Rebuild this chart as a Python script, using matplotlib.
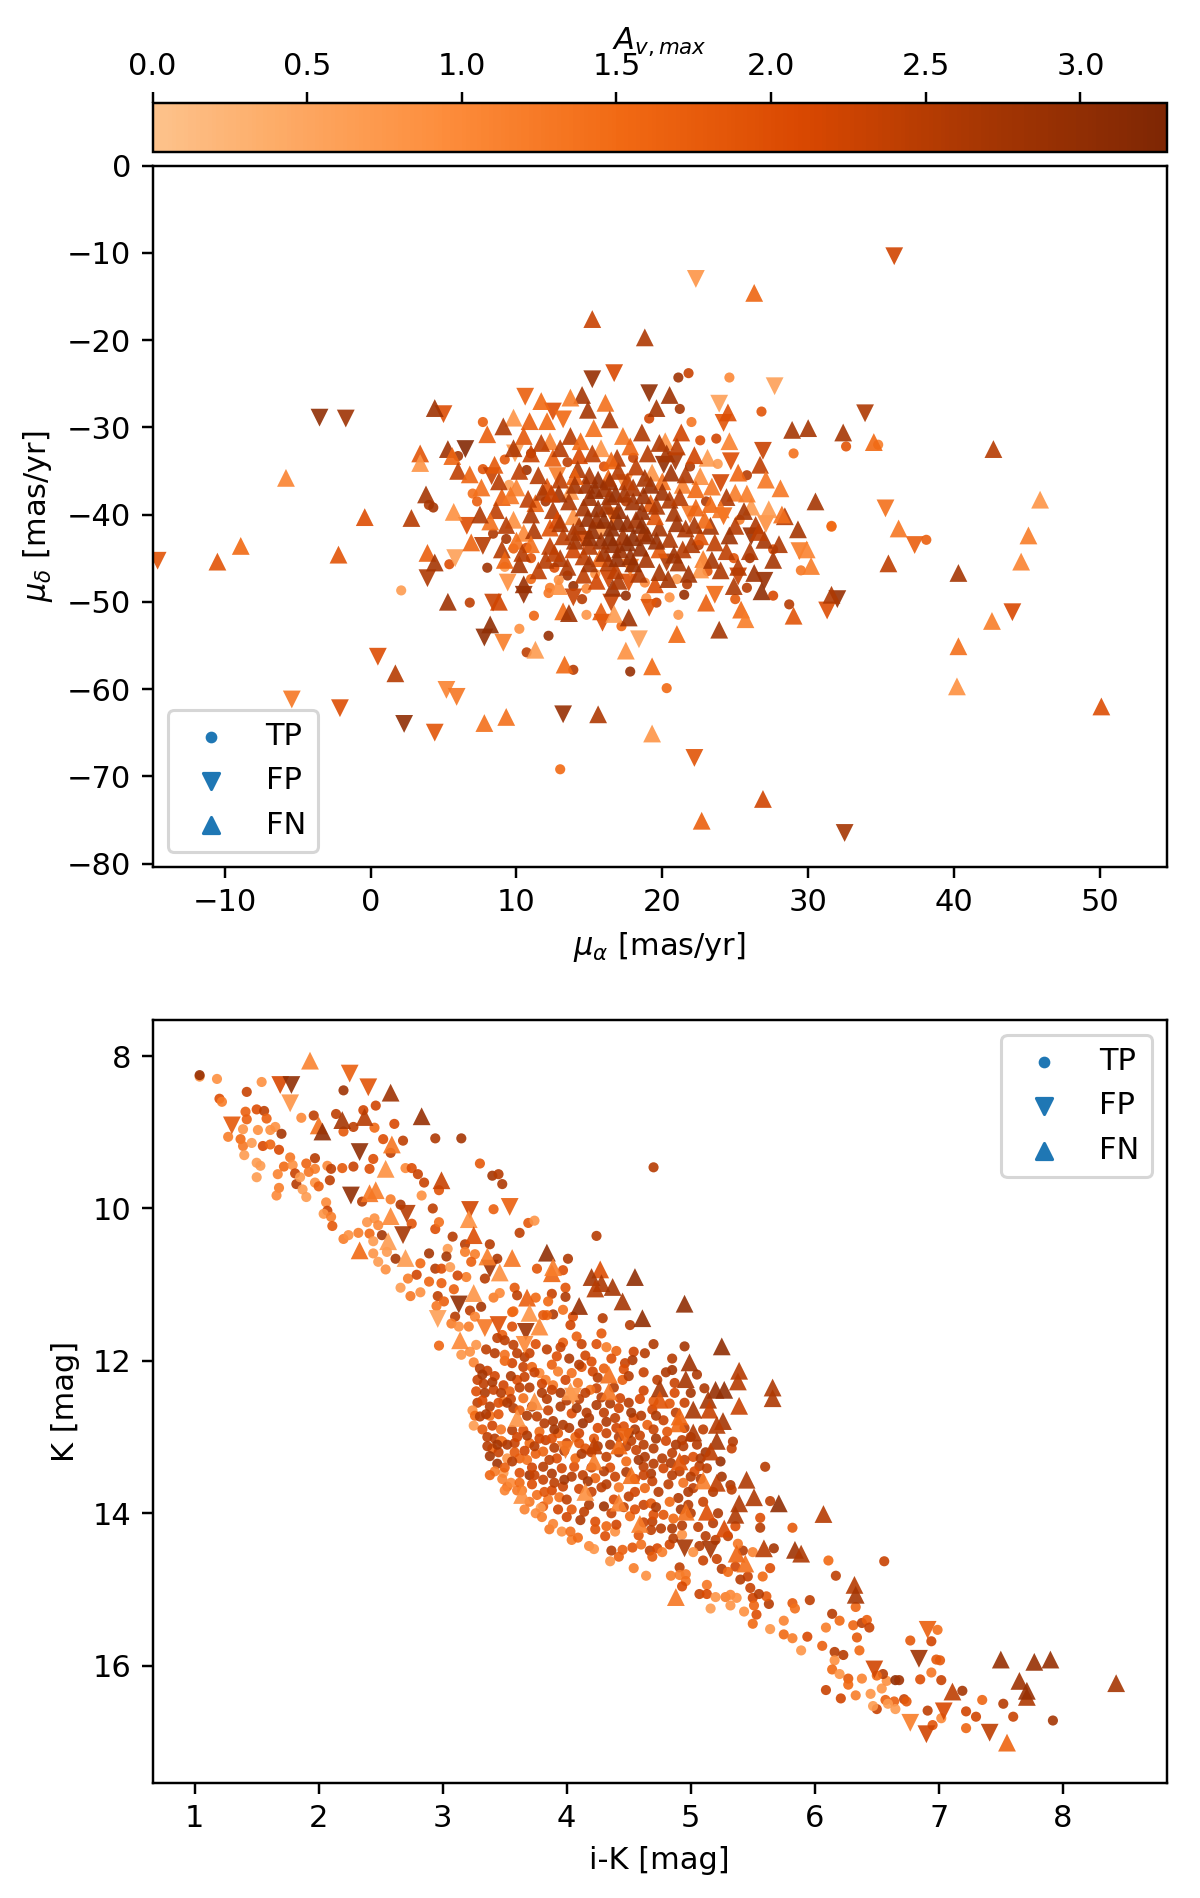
import numpy as np
import matplotlib
matplotlib.use('Agg')
import matplotlib.pyplot as plt
from matplotlib.cm import ScalarMappable
from matplotlib.colors import LinearSegmentedColormap, Normalize

# (pm_ra, pm_dec, Av)
pm_tp = [
    (2.1, -48.7, 0.7), (13.0, -69.2, 1.5), (38.1, -42.9, 1.7), (31.6, -41.4, 1.5), (29.0, -33.0, 1.4),
    (24.6, -24.3, 1.0), (21.8, -23.8, 2.3), (21.1, -24.3, 2.8), (21.2, -27.9, 2.7), (26.8, -28.2, 1.9),
    (19.1, -29.0, 2.2), (22.0, -29.4, 1.3), (7.7, -29.4, 1.7), (23.7, -31.3, 2.2), (22.6, -31.5, 2.0),
    (32.6, -32.2, 1.9), (6.0, -33.3, 2.7), (23.8, -34.2, 0.7), (25.8, -35.5, 2.5), (7.7, -34.8, 1.9),
    (9.2, -33.7, 1.8), (21.9, -34.5, 2.6), (10.7, -34.9, 2.8), (9.5, -36.6, 0.6), (7.0, -37.6, 1.4),
    (7.3, -38.5, 1.7), (4.0, -38.9, 2.6), (4.3, -39.2, 2.7), (25.3, -40.6, 1.2), (27.6, -44.0, 2.0),
    (26.0, -45.0, 2.7), (5.4, -45.7, 2.0), (8.0, -46.1, 2.8), (9.2, -46.0, 0.7), (11.0, -47.4, 1.5),
    (6.8, -50.1, 2.4), (27.6, -49.3, 2.1), (28.7, -50.3, 2.5), (25.0, -49.7, 1.8), (25.8, -48.4, 2.5),
    (21.7, -48.0, 2.5), (21.5, -49.2, 2.9), (21.0, -47.4, 0.7), (20.5, -49.5, 0.9), (19.6, -50.1, 2.3),
    (21.1, -51.5, 0.8), (14.8, -51.5, 0.8), (11.2, -51.6, 1.6), (10.2, -53.1, 0.9), (12.2, -53.9, 2.9),
    (10.7, -55.8, 2.4), (13.9, -57.8, 2.5), (17.8, -58.0, 2.9), (20.3, -59.9, 1.5), (13.5, -47.0, 2.8),
    (13.9, -48.2, 2.9), (14.8, -48.5, 1.0), (12.3, -48.4, 1.2), (12.2, -49.0, 1.3), (12.9, -47.5, 0.9),
    (15.4, -46.8, 0.9), (14.5, -49.7, 2.5), (17.5, -49.3, 2.9), (18.9, -49.6, 0.9), (18.8, -47.8, 1.0),
    (17.2, -52.8, 1.5), (29.5, -46.4, 1.3), (9.8, -43.9, 1.7), (10.7, -43.8, 2.2), (11.0, -45.0, 1.9),
    (8.4, -42.2, 2.6), (9.3, -42.8, 2.7), (12.6, -46.1, 2.0), (24.9, -45.0, 1.9), (23.1, -46.5, 1.9),
    (31.6, -41.3, 1.5), (34.8, -32.0, 1.2), (11.0, -33.0, 2.6), (13.5, -34.0, 2.4), (16.0, -34.5, 2.0),
    (18.0, -33.5, 2.3), (12.0, -38.5, 2.7), (17.5, -38.5, 2.5), (23.0, -38.5, 2.6), (22.5, -43.5, 2.4),
]
pm_fp = [
    (35.9, -10.4, 2.2), (22.3, -13.0, 0.8), (27.7, -25.3, 0.6), (-3.5, -28.9, 3.0), (-1.7, -29.0, 2.8),
    (0.5, -56.3, 2.0), (-5.4, -61.2, 1.3), (-2.1, -62.2, 2.0), (2.3, -64.0, 3.0), (4.4, -65.0, 1.9),
    (5.2, -60.1, 1.1), (5.9, -60.9, 1.3), (22.2, -67.9, 1.9), (32.5, -76.5, 2.7), (33.9, -28.4, 2.6),
    (35.3, -39.3, 1.4), (44.0, -51.2, 2.1), (37.3, -43.5, 1.7), (31.3, -51.0, 2.0), (32.0, -49.7, 2.9),
    (-14.6, -45.3, 1.9), (16.7, -23.8, 2.1), (15.2, -24.5, 2.9), (10.6, -26.5, 1.7), (19.1, -26.1, 3.0),
    (23.9, -27.3, 0.6), (24.2, -29.5, 1.9), (6.5, -32.5, 3.2), (5.0, -28.5, 2.0), (12.5, -28.2, 2.0),
    (13.2, -29.1, 1.5), (26.9, -32.7, 2.3), (24.7, -33.9, 2.0), (9.9, -33.0, 0.7), (8.3, -35.6, 2.3),
    (20.1, -34.3, 3.0), (20.9, -33.9, 2.7), (17.4, -36.4, 0.9), (24.0, -36.4, 2.2), (24.2, -40.2, 1.5),
    (21.9, -40.0, 1.3), (15.8, -41.9, 0.7), (6.6, -41.3, 2.0), (7.7, -43.6, 2.5), (26.1, -42.5, 2.9),
    (27.1, -41.1, 0.9), (5.8, -45.0, 0.6), (3.9, -47.3, 2.6), (9.4, -47.8, 0.9), (10.5, -49.2, 2.9),
    (13.9, -49.5, 2.3), (8.4, -50.1, 2.3), (16.5, -50.1, 2.3), (19.1, -50.7, 1.9), (17.7, -47.8, 2.0),
    (16.3, -47.4, 2.2), (17.8, -46.1, 1.2), (25.2, -47.1, 2.3), (23.6, -49.2, 1.5), (27.0, -47.6, 2.9),
    (29.4, -44.2, 1.2), (20.3, -45.5, 2.6), (7.8, -54.1, 3.0), (9.1, -54.7, 1.2), (18.4, -54.3, 0.6),
    (15.9, -52.4, 2.0), (14.6, -42.9, 2.0), (16.6, -40.2, 1.5), (12.8, -35.6, 1.2), (13.2, -62.9, 2.9),
]
pm_fn = [
    (26.3, -14.6, 1.6), (15.2, -17.6, 2.3), (18.8, -19.7, 2.6), (-5.8, -35.8, 1.1), (3.4, -33.0, 1.9),
    (-0.4, -40.3, 2.0), (-8.9, -43.6, 1.5), (-10.5, -45.4, 1.9), (-2.2, -44.6, 1.9), (1.7, -58.2, 2.5),
    (7.8, -63.9, 1.4), (9.3, -63.2, 1.4), (15.6, -62.9, 2.6), (19.3, -65.1, 0.8), (22.7, -75.1, 1.7),
    (26.9, -72.6, 2.2), (42.7, -32.5, 2.5), (45.9, -38.3, 0.8), (45.1, -42.4, 1.2), (44.6, -45.4, 1.1),
    (42.6, -52.2, 1.2), (40.3, -55.1, 1.4), (40.2, -59.7, 0.9), (50.1, -62.0, 2.0), (40.3, -46.7, 2.7),
    (35.5, -45.6, 2.4), (36.2, -41.6, 1.3), (34.5, -31.7, 1.5), (32.4, -30.6, 2.7), (28.9, -30.3, 2.7),
    (30.0, -30.1, 2.7), (30.5, -38.5, 2.7), (4.4, -27.8, 2.8), (20.5, -26.3, 2.8), (14.5, -26.3, 2.7),
    (14.9, -28.0, 2.7), (19.6, -27.8, 2.7), (13.7, -26.6, 1.2), (11.7, -27.0, 1.5), (16.1, -27.2, 1.4),
    (9.8, -28.9, 0.8), (10.9, -29.3, 1.7), (9.1, -29.9, 2.6), (8.0, -30.8, 1.7), (16.4, -29.1, 2.6),
    (24.5, -28.3, 2.0), (12.1, -29.3, 1.5), (12.3, -31.6, 1.1), (10.5, -31.0, 1.8), (13.7, -31.0, 2.5),
    (15.3, -30.1, 1.4), (17.3, -31.0, 1.3), (18.6, -30.6, 2.6), (21.3, -30.6, 2.2), (20.2, -31.6, 0.9),
    (24.6, -31.6, 1.1), (5.3, -32.5, 2.8), (5.6, -33.3, 1.6), (3.4, -34.1, 0.8), (6.0, -35.0, 2.4),
    (6.8, -35.4, 1.6), (8.5, -34.3, 1.8), (15.8, -32.4, 0.8), (23.1, -33.5, 0.7), (26.7, -34.3, 2.4),
    (25.2, -35.2, 1.6), (27.1, -36.0, 1.3), (28.1, -37.0, 1.3), (25.0, -37.5, 1.2), (22.6, -35.6, 0.9),
    (19.3, -35.2, 0.8), (20.0, -36.2, 1.4), (21.4, -36.6, 1.1), (7.6, -36.9, 1.4), (10.0, -36.9, 1.1),
    (12.1, -36.8, 1.9), (13.7, -37.3, 0.8), (16.3, -35.8, 1.6), (18.0, -36.9, 2.6), (22.3, -37.1, 1.5),
    (3.8, -37.7, 2.7), (2.8, -40.4, 2.5), (5.7, -39.7, 0.9), (26.1, -39.1, 0.7), (27.3, -39.4, 0.7),
    (28.4, -40.2, 2.5), (28.2, -40.0, 1.4), (29.3, -41.7, 2.7), (29.9, -44.0, 1.1), (30.2, -45.9, 1.2),
    (9.8, -40.6, 0.9), (11.3, -38.7, 1.6), (10.5, -42.1, 1.0), (12.3, -41.5, 1.9), (13.9, -40.2, 0.9),
    (14.6, -39.2, 2.7), (16.4, -37.9, 2.8), (18.2, -40.6, 2.7), (19.2, -38.7, 1.8), (20.5, -38.3, 2.6),
    (17.3, -42.5, 2.7), (18.7, -42.1, 2.6), (15.5, -40.6, 2.8), (13.2, -42.5, 2.4), (12.3, -43.6, 2.4),
    (15.7, -45.0, 1.6), (13.9, -44.0, 2.2), (13.0, -45.0, 2.6), (17.1, -44.0, 2.8), (18.9, -45.1, 2.7),
    (21.4, -44.0, 2.5), (23.3, -41.3, 2.7), (22.6, -42.5, 1.9), (23.6, -43.2, 2.4), (24.4, -44.2, 2.4),
    (25.0, -41.3, 2.5), (27.0, -42.9, 2.7), (21.1, -45.5, 2.7), (22.8, -45.1, 1.2), (22.6, -46.3, 0.8),
    (26.3, -46.7, 2.8), (24.9, -48.2, 2.6), (26.8, -48.8, 3.0), (31.6, -49.2, 2.6), (23.0, -50.1, 1.7),
    (25.4, -50.9, 1.5), (25.7, -52.0, 1.2), (29.0, -51.6, 1.9), (23.9, -53.2, 2.7), (21.0, -53.7, 1.5),
    (3.9, -44.4, 1.7), (4.4, -45.5, 2.7), (6.9, -43.2, 1.6), (10.2, -45.7, 2.7), (8.8, -50.0, 2.2),
    (5.3, -50.0, 2.8), (8.2, -52.6, 3.0), (10.5, -48.0, 2.9), (14.6, -46.9, 2.4), (16.6, -48.4, 2.8),
    (12.9, -48.2, 0.9), (13.2, -51.1, 1.5), (13.6, -51.3, 2.8), (15.8, -51.1, 1.8), (16.7, -51.4, 0.7),
    (17.7, -51.8, 2.8), (19.5, -48.0, 2.0), (11.3, -55.5, 0.7), (17.5, -55.6, 0.9), (13.3, -57.2, 1.5),
    (19.3, -57.4, 1.5), (15.0, -35.5, 2.6), (16.0, -37.0, 2.7), (15.0, -38.0, 2.8), (17.0, -39.5, 2.9),
    (18.0, -38.5, 2.8), (16.5, -41.5, 3.0), (17.6, -41.0, 2.9), (15.8, -43.0, 2.8), (18.5, -43.8, 2.9),
    (19.8, -41.5, 2.7), (20.5, -42.8, 2.6), (14.3, -41.3, 2.7), (19.5, -40.2, 1.9), (17.8, -44.8, 2.9),
    (16.3, -45.5, 2.5), (19.8, -44.0, 1.8), (18.2, -34.5, 2.4), (16.9, -33.5, 2.5), (14.3, -33.2, 2.1),
]
# dense middle of the upper panel, mostly overlapping triangles
pm_fn_middle = [
    (11.0, -33.0, 2.3), (12.5, -33.5, 1.7), (14.2, -34.8, 2.6), (13.0, -36.0, 2.4), (11.5, -35.5, 2.5),
    (10.2, -35.0, 2.4), (9.0, -38.0, 1.7), (8.6, -39.5, 2.4), (9.3, -41.2, 2.5), (11.0, -40.0, 2.6),
    (12.5, -39.5, 2.6), (11.2, -41.8, 2.6), (12.8, -40.6, 2.1), (13.6, -38.5, 2.6), (14.8, -36.6, 2.8),
    (15.6, -39.3, 2.9), (15.2, -41.8, 2.9), (16.2, -39.0, 2.7), (16.8, -37.6, 2.9), (17.6, -36.2, 2.4),
    (18.7, -37.8, 2.8), (19.2, -36.6, 2.9), (19.6, -39.0, 2.6), (20.8, -39.8, 2.7), (21.2, -38.0, 2.5),
    (21.6, -41.6, 2.6), (22.3, -39.2, 1.6), (23.3, -38.8, 1.5), (24.4, -38.0, 2.6), (25.6, -39.6, 2.7),
    (24.6, -42.4, 2.8), (26.0, -44.2, 2.6), (27.6, -45.2, 2.7), (25.2, -46.0, 2.5), (23.4, -45.2, 2.7),
    (22.0, -43.4, 2.6), (20.8, -44.6, 2.8), (19.6, -43.0, 2.9), (18.6, -41.2, 3.0), (17.6, -43.2, 3.0),
    (16.6, -43.4, 2.9), (16.0, -44.4, 2.8), (15.0, -43.6, 2.5), (14.6, -44.8, 2.4), (13.5, -46.0, 2.6),
    (12.0, -45.2, 2.5), (11.0, -43.4, 1.4), (10.0, -43.0, 1.4), (9.0, -44.0, 2.5), (16.8, -46.4, 2.4),
    (18.4, -46.8, 2.6), (19.8, -46.6, 2.7), (17.0, -47.6, 2.6), (15.5, -47.6, 2.2), (14.0, -35.6, 1.7),
    (16.5, -33.8, 1.6), (15.6, -36.0, 2.9), (19.0, -33.0, 2.5), (20.3, -33.0, 2.7), (22.2, -33.2, 2.2),
    (11.7, -31.8, 2.4), (13.0, -32.4, 2.5), (14.4, -31.6, 1.5), (15.2, -33.0, 2.4), (17.8, -32.2, 1.6),
    (19.8, -31.8, 2.6), (21.0, -32.2, 2.4), (9.8, -32.4, 2.6), (8.8, -36.2, 2.5), (9.6, -37.8, 1.3),
    (10.8, -38.2, 2.4), (11.8, -37.4, 2.6), (12.9, -37.6, 2.8), (14.0, -36.6, 2.7), (15.4, -37.2, 2.9),
    (17.0, -35.0, 2.5), (18.8, -35.8, 2.7), (20.6, -35.2, 2.8), (21.6, -35.4, 2.6), (23.4, -36.8, 1.3),
    (22.9, -40.6, 1.5), (24.0, -39.4, 1.3), (25.8, -37.6, 1.2), (26.4, -41.2, 2.6), (28.0, -43.4, 2.6),
    (26.6, -42.0, 2.4), (24.0, -46.4, 2.6), (21.8, -46.8, 2.8), (20.4, -47.4, 2.7), (18.0, -45.6, 2.9),
    (16.9, -45.0, 2.9), (15.0, -45.6, 2.7), (13.9, -42.0, 2.6), (12.6, -44.4, 2.4), (11.5, -46.4, 2.4),
    (10.4, -44.4, 2.5), (9.2, -45.2, 1.6), (8.2, -40.8, 1.4), (7.5, -40.0, 2.6), (14.9, -40.4, 2.9),
    (16.0, -40.6, 3.0), (17.0, -40.8, 3.0), (18.0, -42.6, 3.0), (19.0, -42.4, 2.9), (17.4, -37.6, 2.7),
    (20.0, -37.4, 2.8), (21.0, -41.0, 2.8), (22.2, -41.2, 2.7), (15.0, -42.6, 2.9), (14.0, -43.0, 2.7),
    (13.0, -41.0, 2.6), (12.4, -37.6, 2.3), (16.4, -36.2, 2.8), (18.6, -39.6, 2.9), (16.4, -42.6, 3.0),
]

# (i-K, K, Av)
cmd_tp = [
    (1.04, 8.27, 0.8), (1.04, 8.25, 2.9), (1.18, 8.3, 0.9), (1.2, 8.56, 2.0), (1.22, 8.6, 1.2), (1.42, 8.47, 2.3),
    (1.54, 8.34, 0.9), (1.41, 8.73, 1.7), (1.42, 8.83, 1.7), (1.5, 8.7, 2.0), (1.56, 8.72, 2.4), (1.58, 8.82, 1.7),
    (1.27, 9.06, 1.2), (1.39, 8.96, 0.8), (1.37, 9.09, 1.5), (1.39, 9.18, 1.3), (1.46, 9.14, 0.7), (1.51, 8.97, 0.9),
    (1.61, 8.97, 0.9), (1.65, 8.93, 0.9), (1.7, 9.02, 2.7), (1.55, 9.18, 2.1), (1.61, 9.16, 1.6), (1.68, 9.23, 2.1),
    (1.4, 9.3, 0.7), (1.5, 9.4, 0.7), (1.53, 9.44, 0.7), (1.5, 9.59, 0.7), (1.67, 9.55, 1.1), (1.68, 9.73, 1.2),
    (1.66, 9.83, 1.0), (1.77, 9.33, 1.3), (1.72, 9.45, 1.5), (1.79, 9.43, 0.9), (1.81, 9.54, 2.3), (1.82, 9.68, 2.5),
    (1.85, 9.59, 0.7), (1.87, 9.75, 0.7), (1.9, 9.85, 0.7), (1.86, 8.81, 1.0), (1.96, 8.78, 2.4), (1.9, 9.41, 1.6),
    (1.97, 9.34, 2.5), (1.97, 9.48, 1.2), (1.92, 9.52, 1.3), (1.97, 9.66, 0.9), (2.0, 9.71, 1.7), (2.07, 9.44, 1.0),
    (2.1, 9.48, 2.4), (2.09, 9.63, 2.4), (2.19, 9.47, 1.8), (2.28, 9.45, 2.3), (2.2, 8.45, 2.8), (2.14, 8.76, 2.4),
    (2.28, 8.93, 2.4), (2.2, 8.99, 1.8), (2.45, 8.94, 1.5), (2.36, 8.71, 2.2), (2.46, 8.65, 2.2), (2.61, 8.89, 2.1),
    (2.52, 9.09, 2.0), (2.68, 9.11, 2.4), (2.58, 9.27, 2.4), (2.44, 9.35, 2.0), (2.41, 9.48, 2.0), (2.94, 9.08, 2.6),
    (3.15, 9.08, 2.7), (2.7, 9.47, 1.0), (2.75, 9.47, 2.0), (2.8, 9.55, 2.3), (2.85, 9.66, 2.3), (2.83, 9.83, 0.9),
    (2.58, 9.88, 1.2), (2.35, 9.91, 2.5), (2.66, 9.95, 2.6), (2.92, 10.0, 2.4), (3.3, 9.41, 1.8), (3.4, 9.57, 2.7),
    (3.45, 9.55, 2.5), (3.48, 9.68, 2.6), (2.97, 9.76, 1.9), (3.41, 10.01, 1.7), (2.06, 9.92, 1.0), (2.07, 10.03, 2.3),
    (2.04, 10.07, 0.8), (2.1, 10.11, 1.2), (2.11, 10.23, 1.8), (2.2, 10.4, 1.2), (2.24, 10.35, 0.9), (2.32, 10.32, 1.2),
    (2.39, 10.18, 0.8), (2.45, 10.13, 0.9), (2.48, 10.22, 1.0), (2.41, 10.33, 1.5), (2.51, 10.35, 2.7), (2.44, 10.43, 0.7),
    (2.44, 10.59, 0.8), (2.55, 10.57, 0.7), (2.48, 10.7, 0.7), (2.54, 10.8, 0.9), (2.62, 10.66, 2.7), (2.75, 10.2, 1.9),
    (2.94, 10.27, 2.0), (2.97, 10.18, 1.4), (3.08, 10.37, 2.5), (3.18, 10.47, 2.5), (3.38, 10.47, 2.5), (3.04, 10.53, 0.7),
    (2.89, 10.59, 2.7), (3.03, 10.63, 2.7), (3.18, 10.57, 1.2), (3.26, 10.6, 1.2), (3.62, 10.32, 2.4), (3.69, 10.19, 1.8),
    (3.74, 10.16, 0.8), (4.24, 10.36, 2.5), (4.01, 10.66, 2.6), (3.76, 10.79, 1.9), (3.97, 10.81, 2.0), (3.44, 10.66, 2.6),
    (3.23, 10.7, 1.7), (3.34, 10.92, 2.5), (3.19, 10.9, 1.2), (3.12, 10.88, 2.2), (2.82, 10.72, 1.5), (2.94, 10.79, 2.5),
    (2.99, 10.79, 2.0), (3.06, 10.77, 0.7), (2.72, 10.92, 1.2), (2.79, 10.87, 2.2), (2.89, 10.96, 1.6), (2.99, 10.98, 1.7),
    (2.66, 11.04, 0.7), (2.74, 11.15, 1.3), (2.82, 11.1, 0.9), (3.09, 11.06, 1.7), (2.96, 11.15, 2.4), (3.01, 11.22, 1.7),
    (2.95, 11.28, 1.3), (3.31, 11.29, 2.7), (3.22, 11.34, 2.4), (3.41, 11.17, 1.2), (3.46, 11.11, 1.0), (3.58, 11.04, 1.8),
    (3.6, 11.14, 2.4), (3.99, 11.04, 1.9), (3.88, 11.12, 2.3), (3.99, 11.16, 2.6), (3.85, 11.22, 1.5), (3.75, 11.17, 1.5),
    (3.56, 11.36, 1.6), (3.97, 11.33, 1.4), (3.89, 11.39, 2.6), (3.84, 11.4, 1.6), (4.05, 11.42, 2.0), (4.29, 11.44, 2.5),
    (4.51, 11.53, 2.5), (3.1, 11.42, 2.5), (3.07, 11.51, 1.2), (3.13, 11.55, 0.9), (3.21, 11.55, 1.2), (3.26, 11.42, 1.1),
    (2.97, 11.8, 1.6), (3.27, 11.79, 0.8), (3.22, 11.88, 0.9), (3.15, 11.92, 0.8), (3.25, 12.02, 1.1), (4.7, 9.46, 2.5),
    (5.6, 13.39, 2.5), (6.56, 14.63, 2.3), (6.11, 14.62, 1.5), (6.17, 14.82, 2.4), (5.82, 14.19, 1.8), (5.64, 13.84, 2.4),
    (5.56, 14.06, 2.0), (5.56, 14.19, 2.5), (5.67, 14.46, 2.7), (5.5, 14.51, 1.1), (6.33, 15.23, 1.6), (5.96, 15.14, 2.4),
    (5.82, 15.18, 1.8), (5.84, 15.25, 1.4), (6.14, 15.32, 2.5), (6.2, 15.41, 1.5), (5.75, 15.41, 1.1), (6.09, 15.5, 1.2),
    (6.31, 15.47, 1.6), (6.38, 15.44, 2.4), (6.42, 15.4, 1.7), (6.44, 15.5, 2.3), (6.34, 15.63, 1.8), (5.94, 15.62, 2.1),
    (6.06, 15.74, 1.7), (5.75, 15.59, 1.5), (5.82, 15.64, 1.2), (5.64, 15.52, 0.8), (5.89, 15.8, 0.8), (5.5, 15.45, 1.5),
    (5.53, 15.33, 2.0), (5.43, 15.29, 0.9), (5.63, 15.19, 2.5), (5.61, 15.09, 1.8), (5.5, 15.11, 2.2), (5.51, 15.21, 1.6),
    (5.55, 15.06, 2.5), (5.48, 14.98, 2.3), (5.58, 14.83, 1.5), (5.64, 14.72, 2.0), (5.46, 14.83, 2.3), (5.4, 14.87, 2.5),
    (5.36, 14.7, 2.2), (5.25, 14.73, 2.5), (5.3, 14.77, 1.5), (5.21, 14.6, 2.3), (5.1, 14.62, 2.3), (5.07, 14.43, 2.5),
    (5.02, 14.51, 0.9), (5.42, 14.49, 2.5), (5.38, 14.4, 1.3), (4.91, 14.71, 2.4), (4.96, 14.8, 1.3), (4.84, 14.82, 1.2),
    (4.91, 14.81, 1.2), (4.96, 14.89, 1.4), (4.93, 14.96, 2.1), (5.13, 14.94, 1.3), (5.07, 15.06, 2.3), (5.13, 15.06, 2.1),
    (5.2, 15.1, 0.8), (5.28, 15.1, 1.2), (5.32, 15.07, 1.0), (5.37, 15.11, 0.9), (5.32, 15.21, 0.8), (5.16, 15.25, 0.7),
    (4.64, 14.82, 0.9), (4.54, 14.72, 1.2), (4.35, 14.63, 0.8), (4.42, 14.57, 1.7), (4.18, 14.43, 1.0), (4.22, 14.47, 0.8),
    (4.36, 14.49, 2.5), (4.45, 14.48, 1.7), (4.53, 14.45, 1.9), (4.6, 14.41, 1.4), (4.67, 14.49, 2.4), (4.73, 14.46, 2.1),
    (4.77, 14.51, 1.2), (4.69, 14.57, 1.8), (4.83, 14.41, 2.2), (4.86, 14.33, 2.5), (4.93, 14.28, 0.9), (4.31, 14.3, 2.0),
    (4.58, 14.29, 1.9), (4.39, 14.24, 0.9), (3.86, 14.21, 1.3), (3.96, 14.24, 0.9), (4.04, 14.35, 1.2), (4.09, 14.32, 1.5),
    (3.89, 14.14, 1.1), (4.03, 14.24, 1.4), (4.11, 14.09, 2.6), (4.23, 14.11, 2.0), (4.23, 14.21, 1.9), (4.32, 14.17, 1.6),
    (4.4, 14.15, 2.2), (4.51, 14.04, 1.5), (4.69, 14.11, 2.4), (4.68, 14.22, 2.4), (4.78, 14.02, 1.9), (4.86, 14.07, 1.5),
    (4.93, 14.16, 2.5), (5.06, 14.18, 2.4), (5.18, 14.13, 2.5), (5.36, 14.17, 2.0), (6.77, 15.67, 1.8), (6.94, 15.68, 2.2),
    (6.99, 15.53, 1.4), (6.16, 15.82, 2.5), (6.23, 15.86, 2.5), (6.36, 15.8, 1.5), (6.16, 15.93, 0.9), (6.14, 16.05, 1.5),
    (6.2, 16.11, 0.8), (6.27, 16.17, 1.8), (6.27, 16.25, 1.5), (6.09, 16.32, 2.3), (6.21, 16.43, 2.2), (6.33, 16.39, 1.2),
    (6.38, 16.17, 1.1), (6.45, 16.37, 0.8), (6.54, 16.3, 0.8), (6.58, 16.2, 0.9), (6.55, 16.11, 2.5), (6.5, 16.13, 1.5),
    (6.65, 16.19, 3.0), (6.68, 16.19, 2.8), (6.57, 16.45, 1.7), (6.64, 16.47, 1.7), (6.72, 16.44, 2.3), (6.74, 16.47, 1.8),
    (6.5, 16.57, 2.3), (6.47, 16.53, 0.7), (6.65, 16.57, 0.7), (6.59, 16.5, 0.7), (6.85, 16.18, 2.0), (6.94, 16.09, 1.3),
    (7.02, 16.19, 2.3), (6.98, 15.92, 1.8), (7.01, 15.93, 1.8), (7.19, 16.33, 2.7), (6.91, 16.59, 2.4), (7.02, 16.69, 1.0),
    (6.95, 16.78, 1.9), (7.22, 16.6, 2.2), (7.3, 16.67, 2.2), (7.22, 16.82, 1.6), (7.52, 16.5, 2.5), (7.6, 16.67, 2.3),
    (7.92, 16.72, 2.7), (7.35, 16.45, 1.6),
    (3.97, 11.76, 1.7), (4.08, 11.68, 1.7), (4.12, 11.78, 2.3), (4.28, 11.64, 1.8), (4.24, 11.78, 2.0), (4.32, 11.82, 1.2),
    (4.03, 11.53, 2.2), (3.81, 11.4, 1.8), (4.7, 11.78, 2.6), (4.54, 11.88, 2.2), (4.63, 11.9, 2.5), (4.4, 11.87, 1.6),
    (4.36, 11.97, 2.0), (4.95, 11.81, 2.7), (4.85, 11.97, 2.5), (4.85, 12.12, 2.7), (4.53, 11.99, 2.6), (4.47, 12.03, 2.3),
    (4.46, 12.11, 2.0), (4.45, 12.25, 1.7), (3.92, 11.94, 2.0), (4.02, 11.97, 2.6), (3.88, 12.05, 1.7), (3.93, 12.14, 1.2),
    (4.04, 12.16, 1.4), (4.12, 12.08, 1.9), (4.2, 12.01, 2.0), (4.21, 12.14, 2.2), (4.3, 12.1, 1.7), (3.78, 12.16, 1.0),
    (3.65, 12.08, 2.3), (3.56, 12.03, 2.2), (3.6, 12.25, 2.0), (3.66, 12.21, 2.3), (3.83, 12.25, 1.2), (3.89, 12.32, 1.3),
    (3.99, 12.25, 2.2), (4.09, 12.29, 1.3), (4.24, 12.36, 2.3), (4.19, 12.38, 1.4), (4.43, 12.49, 2.2), (4.42, 12.62, 2.2),
    (4.62, 12.39, 2.2), (4.59, 12.5, 2.1), (4.7, 12.53, 1.8), (4.69, 12.64, 2.2), (4.83, 12.56, 1.9), (4.87, 12.29, 2.3),
    (4.87, 12.42, 2.1), (5.11, 12.36, 2.6), (3.84, 12.5, 2.5), (3.95, 12.6, 2.6), (4.04, 12.69, 2.0), (3.49, 12.32, 2.2),
    (3.54, 12.4, 1.7), (3.65, 12.49, 1.4), (3.49, 12.53, 1.2), (3.57, 12.62, 2.5), (3.76, 12.73, 2.4), (3.89, 12.79, 2.6),
    (3.97, 12.84, 2.6), (4.13, 12.82, 2.8), (4.24, 12.58, 2.6), (4.32, 12.8, 2.6), (4.39, 12.75, 2.4), (4.46, 12.86, 2.0),
    (4.54, 12.75, 2.0), (4.65, 12.84, 1.7), (4.78, 12.78, 2.3), (4.7, 12.9, 2.3), (4.32, 12.95, 2.3), (4.59, 12.98, 2.3),
    (4.81, 12.93, 1.9), (3.56, 12.91, 2.5), (3.65, 12.91, 2.0), (3.78, 12.93, 1.5), (3.93, 12.95, 1.8), (3.58, 13.08, 2.3),
    (3.7, 13.08, 1.5), (3.83, 13.04, 2.3), (4.07, 13.0, 1.5), (4.15, 13.15, 1.9), (4.32, 13.26, 2.4), (4.56, 13.17, 2.3),
    (4.63, 13.26, 2.6), (4.77, 13.28, 2.5), (4.85, 13.21, 2.4), (4.94, 13.12, 2.5), (4.93, 13.04, 2.4), (5.02, 13.26, 2.0),
    (5.33, 13.15, 2.3), (5.34, 13.06, 2.5), (5.24, 13.32, 2.9), (5.07, 13.38, 2.4), (5.13, 13.41, 2.4), (5.03, 13.45, 2.0),
    (4.91, 13.45, 2.4), (4.78, 13.41, 2.2), (4.62, 13.39, 2.4), (4.48, 13.32, 1.5), (4.39, 13.52, 2.3), (4.23, 13.54, 1.6),
    (4.13, 13.5, 2.4), (4.06, 13.39, 2.0), (3.96, 13.41, 2.2), (3.81, 13.39, 2.5), (3.7, 13.5, 2.8), (3.62, 13.47, 2.0),
    (3.81, 13.56, 2.3), (3.97, 13.65, 2.3), (4.28, 13.66, 2.4), (4.42, 13.66, 1.3), (4.5, 13.78, 2.4), (4.62, 13.89, 2.3),
    (4.7, 14.02, 2.0), (4.68, 13.87, 1.8), (4.63, 13.67, 1.6), (4.69, 13.58, 2.3), (4.9, 13.8, 2.6), (4.94, 13.6, 1.4),
    (5.02, 13.67, 2.4), (5.32, 13.63, 2.6), (5.33, 13.69, 2.4), (4.83, 13.85, 1.5), (4.98, 13.89, 2.5), (4.3, 13.91, 2.8),
    (4.18, 13.89, 2.6), (4.04, 13.95, 1.8), (3.93, 13.95, 2.2), (3.81, 13.91, 1.8), (3.79, 13.93, 0.7), (3.94, 13.79, 1.4),
    (3.85, 13.82, 1.3), (3.76, 13.76, 1.4), (3.52, 13.65, 1.5), (3.49, 13.47, 0.7), (3.52, 13.28, 0.8), (3.48, 13.06, 1.6),
    (3.62, 13.28, 1.6), (3.81, 13.19, 1.6), (3.92, 13.28, 2.0), (4.07, 13.28, 1.5), (3.48, 11.66, 1.7), (3.5, 11.73, 2.4),
    (3.57, 11.79, 2.4), (3.56, 11.55, 2.0), (3.57, 11.35, 1.5),
    (3.3, 12.1, 2.5), (3.36, 12.13, 2.3), (3.28, 12.25, 2.3), (3.33, 12.3, 2.4), (3.42, 12.2, 2.2), (3.27, 12.4, 2.0),
    (3.34, 12.42, 2.6), (3.41, 12.38, 2.3), (3.28, 12.55, 2.4), (3.32, 12.52, 2.1), (3.38, 12.6, 2.5), (3.45, 12.55, 2.0),
    (3.24, 12.65, 0.9), (3.26, 12.72, 1.5), (3.3, 12.73, 2.5), (3.38, 12.72, 1.4), (3.45, 12.7, 1.9), (3.25, 12.85, 0.7),
    (3.32, 12.9, 1.8), (3.4, 12.85, 2.2), (3.47, 12.9, 1.3), (3.36, 13.0, 2.4), (3.42, 13.02, 2.5), (3.47, 13.05, 1.2),
    (3.4, 13.15, 1.5), (3.45, 13.2, 2.3), (3.38, 13.25, 2.7), (3.44, 13.35, 2.8), (3.5, 13.4, 1.7), (3.42, 13.45, 1.2),
    (3.38, 13.5, 1.6), (3.48, 13.55, 1.1), (3.55, 13.6, 1.0), (3.5, 13.7, 1.1), (3.6, 13.7, 1.3), (3.7, 13.85, 1.3),
    (3.66, 13.95, 1.1), (3.75, 14.0, 1.0), (3.8, 14.05, 1.2), (3.44, 11.7, 2.4), (3.35, 11.85, 2.4), (3.42, 11.9, 2.5),
    (3.5, 12.0, 1.6), (3.6, 11.9, 2.4), (3.66, 11.95, 2.5), (3.72, 12.08, 1.6), (3.74, 12.15, 2.3), (3.8, 12.3, 2.2),
    (3.5, 11.92, 1.4),
]
# dense middle of the lower panel
cmd_tp_middle = [
    (3.55, 12.2, 2.6), (3.7, 12.35, 2.5), (3.62, 12.65, 1.7), (3.72, 12.6, 2.6), (3.85, 12.65, 2.3), (3.95, 12.42, 2.7),
    (4.1, 12.5, 2.4), (4.16, 12.68, 2.5), (4.3, 12.68, 2.4), (4.5, 12.55, 2.5), (4.55, 12.9, 2.6), (4.4, 12.88, 2.2),
    (4.25, 12.88, 2.1), (4.1, 12.95, 2.2), (4.0, 13.08, 2.3), (3.9, 13.14, 2.5), (3.75, 13.22, 1.7), (3.68, 13.3, 1.4),
    (3.58, 13.2, 1.8), (3.72, 13.4, 2.2), (3.88, 13.48, 2.6), (4.04, 13.52, 2.5), (4.2, 13.4, 2.4), (4.35, 13.4, 2.0),
    (4.22, 13.02, 1.8), (4.42, 13.2, 2.6), (4.52, 13.05, 2.4), (4.7, 13.15, 2.5), (4.8, 13.05, 2.2), (4.68, 13.48, 2.6),
    (4.55, 13.55, 2.1), (4.82, 13.62, 2.4), (4.74, 13.72, 2.5), (4.55, 13.72, 2.2), (4.38, 13.82, 2.1), (4.2, 13.72, 2.3),
    (4.1, 13.68, 2.2), (4.0, 13.82, 2.4), (3.88, 13.7, 2.1), (3.72, 13.62, 2.0), (3.62, 13.6, 1.5), (4.36, 14.0, 2.3),
    (4.55, 13.95, 2.0), (4.98, 13.72, 2.6), (5.08, 13.55, 2.5), (5.12, 13.2, 2.7), (5.05, 13.1, 2.5), (5.1, 12.9, 2.4),
    (4.95, 12.55, 2.3), (5.05, 12.18, 2.6), (4.62, 12.15, 2.3), (4.73, 12.25, 2.4), (4.15, 11.93, 2.2), (3.84, 11.85, 2.4),
    (3.75, 11.78, 2.0), (3.7, 11.9, 2.3), (3.55, 12.5, 2.3), (3.6, 13.0, 2.2), (3.35, 12.7, 2.6), (3.36, 13.12, 2.5),
    (5.2, 14.35, 2.4), (5.0, 14.0, 2.5), (4.85, 14.2, 2.6), (5.1, 13.85, 2.3), (5.25, 13.52, 2.7), (4.2, 13.2, 2.3),
    (3.32, 12.18, 2.7), (3.4, 12.28, 2.6), (3.47, 12.42, 2.5), (3.52, 12.55, 2.6), (3.62, 12.35, 2.4), (3.68, 12.72, 2.6),
    (3.8, 12.42, 2.6), (3.88, 12.38, 2.3), (4.0, 12.52, 2.5), (4.08, 12.62, 2.7), (4.15, 12.42, 2.4), (4.28, 12.48, 2.5),
    (4.35, 12.56, 2.6), (4.38, 12.35, 2.5), (4.52, 12.68, 2.7), (4.6, 12.72, 2.5), (4.72, 12.72, 2.6), (4.88, 12.68, 2.4),
    (4.95, 12.88, 2.5), (5.0, 13.0, 2.4), (4.88, 13.1, 2.6), (4.72, 13.02, 2.7), (4.62, 13.1, 2.5), (4.5, 12.95, 2.7),
    (4.42, 13.0, 2.5), (4.25, 13.12, 2.6), (4.12, 13.22, 2.6), (3.98, 13.18, 2.6), (3.86, 13.3, 2.4), (3.74, 13.12, 2.5),
    (3.66, 13.18, 2.2), (3.52, 13.1, 2.6), (3.44, 13.1, 2.7), (3.56, 13.32, 2.5), (3.68, 12.98, 2.6), (3.82, 12.82, 2.5),
    (3.9, 12.9, 2.7), (4.02, 12.88, 2.6), (4.18, 12.75, 2.6), (3.78, 13.02, 2.2), (3.88, 13.02, 2.0), (4.1, 13.08, 1.9),
    (4.35, 13.1, 2.6), (4.48, 13.12, 2.4), (4.58, 13.3, 2.7), (4.7, 13.35, 2.5), (4.84, 13.34, 2.6), (4.95, 13.3, 2.3),
    (5.08, 13.28, 2.6), (4.85, 13.5, 2.5), (4.62, 13.5, 2.3), (4.48, 13.46, 2.6), (4.3, 13.45, 2.5), (4.17, 13.58, 2.7),
    (4.32, 13.62, 2.5), (3.98, 13.56, 2.7), (3.9, 13.6, 2.4), (3.74, 13.5, 2.3), (3.64, 13.7, 1.2), (3.82, 13.72, 1.9),
    (4.0, 14.05, 2.2), (4.14, 13.98, 2.4), (4.46, 13.92, 2.4), (4.62, 14.12, 2.3), (4.76, 14.2, 2.5), (4.72, 13.92, 2.6),
    (4.92, 13.95, 2.7), (5.0, 13.52, 2.5), (5.18, 13.72, 2.5), (5.22, 14.0, 2.6), (5.12, 14.3, 2.5), (5.3, 14.3, 2.4),
    (4.8, 12.15, 2.6), (4.25, 12.22, 2.5), (4.1, 12.05, 2.5), (3.95, 11.82, 2.3), (4.5, 12.2, 2.5), (5.0, 12.42, 2.7),
]
cmd_fp = [
    (1.3, 8.91, 1.8), (1.69, 8.38, 2.1), (1.78, 8.38, 3.0), (1.77, 8.62, 0.8), (2.25, 8.23, 1.7), (2.4, 8.41, 1.9),
    (2.33, 9.26, 3.0), (2.26, 9.83, 3.0), (2.71, 10.07, 2.5), (2.68, 10.35, 2.7), (3.22, 10.02, 2.2), (3.54, 9.98, 1.7),
    (3.38, 10.79, 2.8), (3.13, 11.26, 3.0), (2.96, 11.45, 0.6), (3.34, 11.57, 1.3), (3.45, 11.53, 2.0), (3.67, 11.62, 2.8),
    (3.66, 11.79, 1.0), (4.05, 12.47, 0.8), (3.99, 13.17, 1.3), (4.47, 13.0, 1.6), (4.95, 14.46, 2.7), (5.16, 14.48, 2.7),
    (6.91, 15.53, 1.7), (6.84, 15.91, 2.8), (6.48, 16.05, 2.2), (7.04, 16.6, 2.1), (6.77, 16.75, 1.2), (6.9, 16.9, 2.2),
    (7.41, 16.88, 2.4),
]
cmd_fn = [
    (1.93, 8.06, 1.1), (2.58, 8.48, 2.8), (2.83, 8.79, 2.9), (2.19, 8.84, 2.7), (2.37, 8.8, 2.5), (2.0, 8.91, 1.4),
    (2.03, 8.99, 3.0), (2.59, 9.16, 1.3), (2.54, 9.48, 0.9), (2.99, 9.63, 2.3), (2.46, 9.76, 1.2), (2.41, 9.8, 1.3),
    (2.58, 10.1, 1.0), (3.21, 10.14, 0.9), (3.25, 10.35, 2.0), (2.56, 10.43, 0.7), (2.33, 10.55, 1.5), (2.7, 10.65, 0.7),
    (3.36, 10.63, 1.2), (3.56, 10.65, 1.3), (3.84, 10.58, 3.0), (3.46, 10.84, 0.9), (3.88, 10.85, 1.6), (3.89, 10.77, 1.2),
    (4.27, 10.8, 2.0), (4.2, 10.9, 2.7), (4.28, 10.98, 2.6), (4.23, 11.05, 2.5), (4.37, 11.03, 2.7), (4.55, 10.9, 3.0),
    (4.45, 11.22, 2.7), (4.61, 11.44, 3.0), (3.25, 11.11, 0.8), (3.68, 11.17, 1.7), (3.7, 11.37, 0.8), (4.1, 11.28, 2.9),
    (3.78, 11.55, 1.0), (3.14, 11.73, 1.0), (4.34, 12.18, 1.4), (4.34, 12.4, 1.3), (3.74, 12.53, 0.9), (4.03, 12.4, 0.7),
    (4.95, 11.25, 3.0), (5.25, 11.81, 3.0), (4.99, 12.02, 2.8), (5.39, 12.13, 2.5), (5.38, 12.27, 2.5), (4.96, 12.24, 2.7),
    (5.66, 12.35, 2.6), (5.66, 12.49, 2.6), (5.2, 12.38, 2.9), (5.27, 12.38, 3.0), (5.14, 12.51, 2.7), (5.15, 12.64, 2.3),
    (5.39, 12.59, 2.3), (5.02, 12.64, 2.7), (4.75, 12.36, 2.7), (4.75, 12.51, 1.9), (4.91, 12.73, 1.6), (4.9, 12.82, 1.5),
    (5.26, 12.79, 2.7), (5.21, 12.84, 2.5), (5.02, 12.94, 2.6), (5.21, 13.05, 2.7), (5.16, 13.19, 2.4), (4.91, 13.32, 1.9),
    (5.45, 13.56, 2.6), (5.1, 13.57, 1.2), (5.21, 13.6, 2.4), (5.51, 13.79, 2.6), (5.39, 13.87, 2.6), (5.71, 13.87, 3.0),
    (5.36, 14.02, 2.6), (5.27, 14.2, 2.1), (5.13, 13.98, 2.0), (4.96, 13.98, 1.4), (6.07, 14.01, 2.5), (5.84, 14.48, 2.8),
    (5.89, 14.53, 2.6), (5.59, 14.46, 2.5), (5.37, 14.53, 1.6), (5.44, 14.66, 1.4), (6.32, 14.94, 2.5), (6.33, 15.07, 2.7),
    (4.88, 15.1, 1.3), (4.59, 14.14, 1.2), (4.42, 13.86, 1.1), (4.52, 13.5, 1.4), (4.22, 13.32, 1.2), (4.22, 13.11, 2.4),
    (4.42, 13.11, 1.5), (4.15, 13.72, 0.9), (3.64, 13.76, 0.9), (3.6, 12.75, 0.8), (7.11, 16.34, 2.4), (7.5, 15.92, 2.9),
    (7.77, 15.95, 2.9), (7.9, 15.92, 2.9), (7.65, 16.2, 2.8), (7.71, 16.41, 2.6), (7.71, 16.33, 2.9), (8.43, 16.23, 2.7),
    (7.55, 17.01, 1.6),
]

AV_MAX = 3.28
DPI = 220
FIG_W, FIG_H = 1200, 1898


def add_axes_px(fig, left, top, right, bottom):
    # axes box given in pixels measured from the top of the picture
    return fig.add_axes([left / FIG_W, 1 - bottom / FIG_H, (right - left) / FIG_W, (bottom - top) / FIG_H])


def draw_panel(ax, tp, fp, fn, cmap, norm):
    for points, marker, size in [(tp, 'o', 11), (fp, 'v', 34), (fn, '^', 34)]:
        x, y, av = zip(*points)
        ax.scatter(x, y, c=av, cmap=cmap, norm=norm, marker=marker, s=size, alpha=0.9, linewidths=0)
    # legend shows the classes in the default colour, not the Av scale
    ax.scatter([], [], c='C0', marker='o', s=8, label='TP')
    ax.scatter([], [], c='C0', marker='v', s=28, label='FP')
    ax.scatter([], [], c='C0', marker='^', s=28, label='FN')


def main():
    fig = plt.figure(figsize=(FIG_W / DPI, FIG_H / DPI), dpi=DPI)
    colors = plt.get_cmap('Oranges')(np.linspace(0.3, 1.0, 256))
    cmap = LinearSegmentedColormap.from_list('oranges_cut', colors)
    norm = Normalize(vmin=0, vmax=AV_MAX)

    cax = add_axes_px(fig, 152.5, 102.5, 1167, 152)
    ax1 = add_axes_px(fig, 152.5, 165.5, 1167, 867)
    ax2 = add_axes_px(fig, 152.5, 1019.5, 1167, 1783)

    cbar = fig.colorbar(ScalarMappable(norm=norm, cmap=cmap), cax=cax, orientation='horizontal', ticklocation='top')
    cbar.set_ticks([0, 0.5, 1, 1.5, 2, 2.5, 3])
    cbar.set_label(r'$A_{v,max}$', labelpad=1)

    draw_panel(ax1, pm_tp, pm_fp, pm_fn + pm_fn_middle, cmap, norm)
    ax1.set_xlim(-14.95, 54.6)
    ax1.set_ylim(-80.4, 0)
    ax1.set_xlabel(r'$\mu_{\alpha}$ [mas/yr]')
    ax1.set_ylabel(r'$\mu_{\delta}$ [mas/yr]')
    ax1.legend(loc='lower left')

    draw_panel(ax2, cmd_tp + cmd_tp_middle, cmd_fp, cmd_fn, cmap, norm)
    ax2.set_xlim(0.66, 8.84)
    ax2.set_ylim(17.54, 7.52)
    ax2.set_xlabel('i-K [mag]')
    ax2.set_ylabel('K [mag]')
    ax2.legend(loc='upper right')

    fig.savefig('out.png', dpi=DPI)


if __name__ == '__main__':
    main()
